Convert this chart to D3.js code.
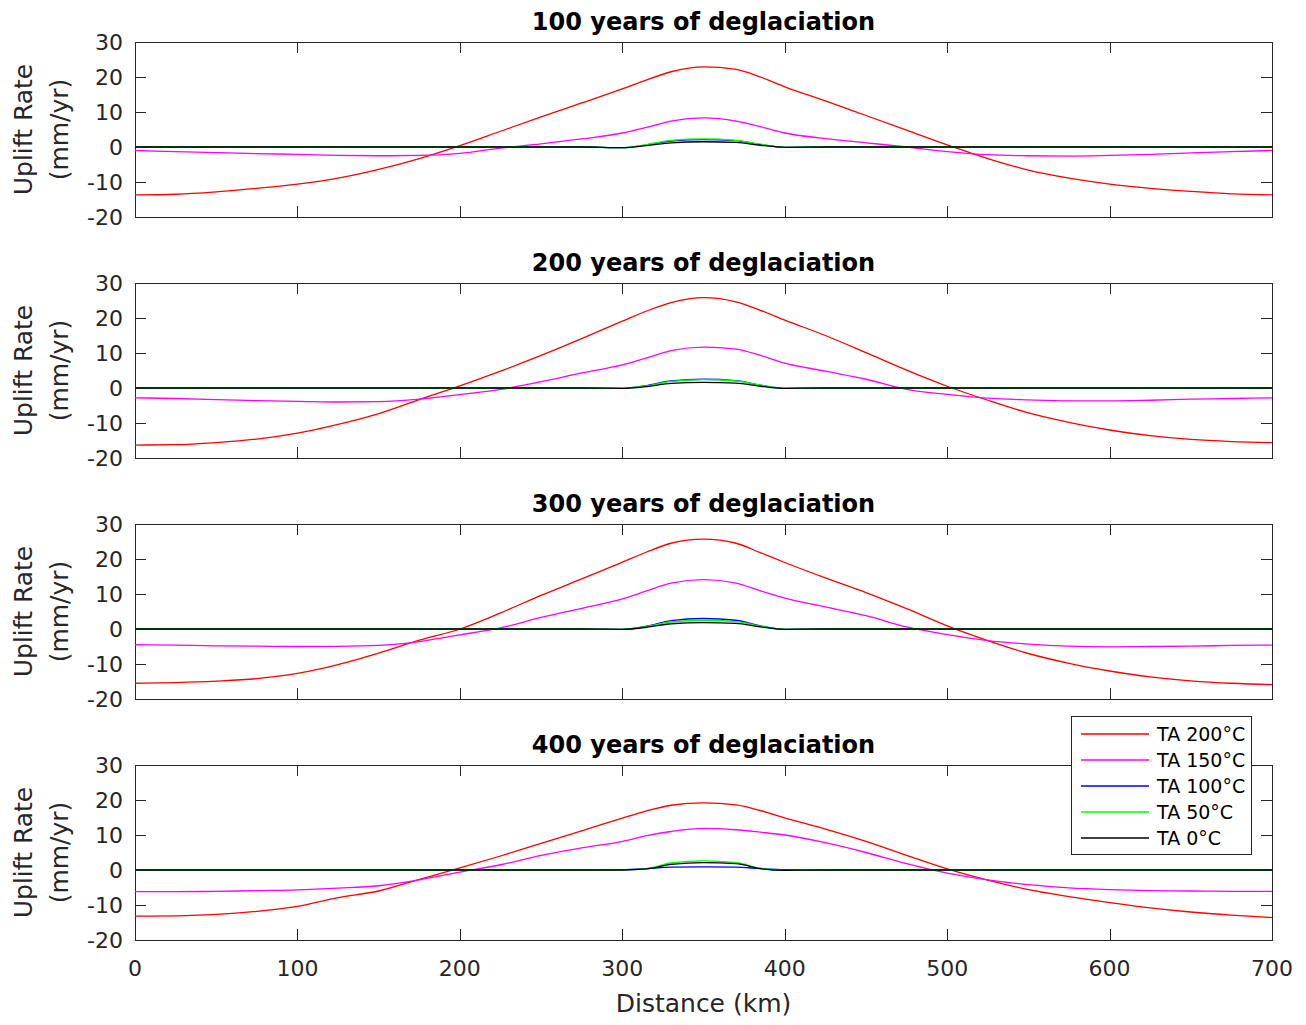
<!DOCTYPE html>
<html><head><meta charset="utf-8">
<script src="https://cdn.jsdelivr.net/npm/d3@7"></script>
<style>
body{margin:0;background:#fff;}
text{font-family:"DejaVu Sans",Verdana,sans-serif;fill:#262626;}
</style></head>
<body><svg id="chart" width="1306" height="1025"></svg>
<script>
const distance = [0,25,50,75,100,125,150,175,200,225,250,275,300,315,330,350,370,385,400,425,450,475,500,525,550,575,600,625,650,675,700];
const titles = ["100 years of deglaciation","200 years of deglaciation","300 years of deglaciation","400 years of deglaciation"];
const seriesNames = ["TA 200°C","TA 150°C","TA 100°C","TA 50°C","TA 0°C"];
const seriesColors = ["#ff0000","#ff00ff","#0000ff","#00ff00","#000000"];
const xTicks = [0,100,200,300,400,500,600,700];
const yTicks = [-20,-10,0,10,20,30];

// 100 years
const ta200_100 = [-13.7,-13.5,-12.8,-11.8,-10.6,-8.9,-6.4,-3.3,0.4,4.5,8.6,12.6,16.6,19.2,21.5,22.9,22.2,20.0,17.2,13.2,9.0,4.8,0.6,-3.3,-6.6,-8.9,-10.6,-11.8,-12.7,-13.4,-13.7];
const ta150_100 = [-1.0,-1.3,-1.6,-1.9,-2.1,-2.4,-2.5,-2.4,-1.8,-0.3,0.9,2.3,4.0,5.6,7.4,8.3,7.4,5.8,4.0,2.4,1.2,0.0,-1.3,-2.2,-2.5,-2.6,-2.4,-2.1,-1.7,-1.3,-1.0];
const ta100_100 = [0,0,0,0,0,0,0,0,0,0,0,0,-0.2,0.6,1.7,2.1,1.8,0.7,-0.1,0,0,0,0,0,0,0,0,0,0,0,0];
const ta50_100  = [0,0,0,0,0,0,0,0,0,0,0,0,-0.2,0.7,1.9,2.3,1.9,0.8,-0.1,0,0,0,0,0,0,0,0,0,0,0,0];
const ta0_100   = [0,0,0,0,0,0,0,0,0,0,0,0,-0.2,0.4,1.2,1.5,1.3,0.5,-0.1,0,0,0,0,0,0,0,0,0,0,0,0];
// 200 years
const ta200_200 = [-16.3,-16.2,-15.6,-14.6,-12.9,-10.4,-7.3,-3.3,0.6,4.8,9.3,14.1,19.1,22.0,24.4,25.8,24.6,22.2,19.4,15.0,10.1,5.1,0.5,-3.5,-7.1,-9.8,-12.0,-13.6,-14.7,-15.3,-15.6];
const ta150_200 = [-2.8,-3.0,-3.3,-3.6,-3.8,-4.0,-3.9,-3.2,-1.9,-0.4,1.8,4.3,6.6,8.6,10.7,11.7,11.1,9.3,7.1,4.8,2.5,-0.4,-1.8,-2.9,-3.4,-3.7,-3.7,-3.5,-3.2,-3.0,-2.8];
const ta100_200 = [0,0,0,0,0,0,0,0,0,0,0,0,-0.1,0.7,2.0,2.5,2.1,0.8,-0.1,0,0,0,0,0,0,0,0,0,0,0,0];
const ta50_200  = [0,0,0,0,0,0,0,0,0,0,0,0,-0.1,0.6,1.9,2.4,2.0,0.8,-0.1,0,0,0,0,0,0,0,0,0,0,0,0];
const ta0_200   = [0,0,0,0,0,0,0,0,0,0,0,0,-0.1,0.4,1.3,1.6,1.4,0.5,-0.1,0,0,0,0,0,0,0,0,0,0,0,0];
// 300 years
const ta200_300 = [-15.5,-15.3,-14.9,-14.2,-12.7,-10.2,-6.9,-3.2,0.0,4.6,9.6,14.3,19.1,22.0,24.5,25.7,24.5,21.8,19.0,14.6,10.4,5.8,0.9,-3.3,-7.0,-9.8,-12.0,-13.7,-14.8,-15.5,-15.9];
const ta150_300 = [-4.5,-4.6,-4.8,-4.9,-5.0,-4.95,-4.7,-3.6,-1.7,0.3,3.3,5.9,8.6,10.9,13.1,14.1,13.1,10.9,8.8,6.3,3.8,0.6,-1.6,-3.3,-4.3,-4.9,-5.1,-5.0,-4.9,-4.7,-4.6];
const ta100_300 = [0,0,0,0,0,0,0,0,0,0,0,0,-0.1,0.8,2.4,3.0,2.5,0.9,-0.1,0,0,0,0,0,0,0,0,0,0,0,0];
const ta50_300  = [0,0,0,0,0,0,0,0,0,0,0,0,-0.1,0.7,2.0,2.5,2.1,0.8,-0.1,0,0,0,0,0,0,0,0,0,0,0,0];
const ta0_300   = [0,0,0,0,0,0,0,0,0,0,0,0,-0.1,0.5,1.5,1.8,1.6,0.6,-0.1,0,0,0,0,0,0,0,0,0,0,0,0];
// 400 years
const ta200_400 = [-13.2,-13.1,-12.7,-11.8,-10.4,-7.9,-6.0,-2.7,0.6,4.0,7.6,11.2,14.8,16.9,18.5,19.2,18.6,17.0,14.9,11.7,8.2,4.2,0.3,-2.9,-5.6,-7.6,-9.3,-10.8,-12.0,-12.9,-13.6];
const ta150_400 = [-6.2,-6.2,-6.1,-5.9,-5.7,-5.2,-4.5,-2.8,-0.6,1.5,4.2,6.3,8.2,9.8,11.0,11.9,11.5,10.8,10.0,7.8,5.0,1.8,-0.9,-2.8,-4.2,-5.1,-5.6,-5.9,-6.0,-6.1,-6.1];
const ta100_400 = [0,0,0,0,0,0,0,0,0,0,0,0,0.1,0.4,0.8,0.9,0.8,0.4,0.1,0,0,0,0,0,0,0,0,0,0,0,0];
const ta50_400  = [0,0,0,0,0,0,0,0,0,0,0,0,0.0,0.4,2.0,2.6,2.1,0.5,-0.1,0,0,0,0,0,0,0,0,0,0,0,0];
const ta0_400   = [0,0,0,0,0,0,0,0,0,0,0,0,0.0,0.3,1.6,2.1,1.8,0.4,-0.1,0,0,0,0,0,0,0,0,0,0,0,0];

const panels = [
  [ta200_100, ta150_100, ta100_100, ta50_100, ta0_100],
  [ta200_200, ta150_200, ta100_200, ta50_200, ta0_200],
  [ta200_300, ta150_300, ta100_300, ta50_300, ta0_300],
  [ta200_400, ta150_400, ta100_400, ta50_400, ta0_400]
];

const svg = d3.select("#chart");
const left = 135, right = 1272, ph = 175;
const tops = [42, 283, 524, 765];
const axisColor = "#262626";
const x = d3.scaleLinear().domain([0,700]).range([left,right]);

panels.forEach((series, i) => {
  const top = tops[i];
  const y = d3.scaleLinear().domain([-20,30]).range([top+ph, top]);
  const g = svg.append("g");
  g.append("rect").attr("x",left+0.5).attr("y",top+0.5).attr("width",right-left).attr("height",ph)
    .attr("fill","#fff").attr("stroke",axisColor).attr("stroke-width",1);
  const tl = 11;
  xTicks.forEach(t => {
    const px = Math.round(x(t))+0.5;
    g.append("line").attr("x1",px).attr("x2",px).attr("y1",top+ph).attr("y2",top+ph-tl).attr("stroke",axisColor);
    g.append("line").attr("x1",px).attr("x2",px).attr("y1",top).attr("y2",top+tl).attr("stroke",axisColor);
  });
  yTicks.forEach(t => {
    const py = Math.round(y(t))+0.5;
    g.append("line").attr("x1",left).attr("x2",left+tl).attr("y1",py).attr("y2",py).attr("stroke",axisColor);
    g.append("line").attr("x1",right).attr("x2",right-tl).attr("y1",py).attr("y2",py).attr("stroke",axisColor);
    g.append("text").attr("x",left-12).attr("y",y(t)).attr("dy","0.36em").attr("text-anchor","end")
      .attr("font-size",22).text(t);
  });
  if (i === panels.length-1) {
    xTicks.forEach(t => {
      g.append("text").attr("x",x(t)).attr("y",top+ph+36).attr("text-anchor","middle").attr("font-size",22).text(t);
    });
  }
  g.append("text").attr("x",(left+right)/2).attr("y",top-12).attr("text-anchor","middle")
    .attr("font-size",24).attr("font-weight","bold").style("fill","#000").text(titles[i]);
  const cy = top + ph/2;
  g.append("text").attr("transform",`translate(32,${cy}) rotate(-90)`).attr("text-anchor","middle")
    .attr("font-size",25).text("Uplift Rate");
  g.append("text").attr("transform",`translate(68,${cy}) rotate(-90)`).attr("text-anchor","middle")
    .attr("font-size",25).text("(mm/yr)");
  const line = d3.line().x((d,k)=>x(distance[k])).y(d=>y(d)).curve(d3.curveMonotoneX);
  series.forEach((vals, s) => {
    g.append("path").datum(vals).attr("d",line).attr("fill","none")
      .attr("stroke",seriesColors[s]).attr("stroke-width",1.3);
  });
});

svg.append("text").attr("x",(left+right)/2).attr("y",1012).attr("text-anchor","middle").attr("font-size",25).text("Distance (km)");

const lg = svg.append("g");
lg.append("rect").attr("x",1071.5).attr("y",716.5).attr("width",180).attr("height",138)
  .attr("fill","#fff").attr("stroke",axisColor).attr("stroke-width",1);
seriesNames.forEach((n, k) => {
  const ly = 734 + k*26;
  lg.append("line").attr("x1",1081).attr("x2",1149).attr("y1",ly).attr("y2",ly).attr("stroke",seriesColors[k]).attr("stroke-width",1.3);
  lg.append("text").attr("x",1157).attr("y",ly).attr("dy","0.36em").attr("font-size",19).style("fill","#000").text(n);
});
</script></body></html>
